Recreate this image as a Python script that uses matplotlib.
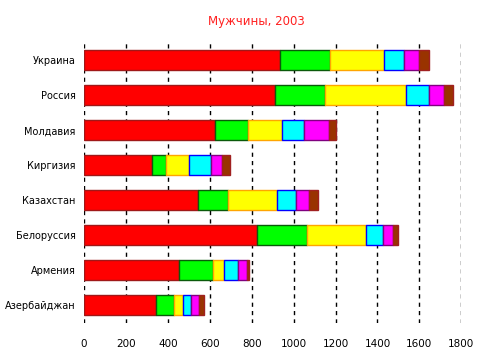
import matplotlib
matplotlib.use("Agg")
from matplotlib import pyplot as plt
import numpy as np

countries = ["Украина", "Россия", "Молдавия", "Киргизия",
             "Казахстан", "Белоруссия", "Армения", "Азербайджан"]

# segment values per country, left to right
seg_red = [936, 913, 626, 326, 545, 827, 455, 345]
seg_green = [236, 235, 155, 64, 140, 235, 159, 83]
seg_yellow = [259, 386, 163, 111, 236, 283, 54, 44]
seg_cyan = [94, 110, 104, 103, 89, 80, 65, 37]
seg_magenta = [75, 73, 122, 54, 63, 51, 43, 40]
seg_brown = [47, 42, 31, 37, 42, 22, 11, 23]

series = [seg_red, seg_green, seg_yellow, seg_cyan, seg_magenta, seg_brown]
faces = ["#ff0000", "#00ff00", "#ffff00", "#00ffff", "#ff00ff", "#993300"]
edges = ["#a01818", "#0a5a0a", "#ffa500", "#0000ff", "#800080", "#a02020"]

fig = plt.figure(figsize=(4.8, 3.56), dpi=100)
ax = fig.add_axes([84 / 480, 1 - 322.8 / 356, (461.3 - 84) / 480, 280 / 356])

y = np.arange(len(countries))
left = np.zeros(len(countries))
for vals, fc, ec in zip(series, faces, edges):
    ax.barh(y, vals, left=left, height=0.57, color=fc, edgecolor=ec,
            linewidth=1.0, zorder=3)
    left += np.array(vals)

ax.set_xlim(0, 1800)
ax.set_ylim(len(countries) - 0.5, -0.5)
ax.set_yticks(y)
ax.set_yticklabels(countries, fontsize=7)
ax.set_xticks(np.arange(0, 1801, 200))
ax.tick_params(axis="x", labelsize=7.5, length=0, pad=12)
ax.tick_params(axis="y", length=0, pad=6)
ax.xaxis.grid(True, color="black", linestyle=(0, (3, 3)), linewidth=1.0, zorder=0)
for s in ax.spines.values():
    s.set_visible(False)

fig.text(256 / 480, 1 - 21.5 / 356, "Мужчины, 2003", color="#ff2020",
         fontsize=8.5, ha="center", va="center")

fig.savefig("out.png", dpi=100)
